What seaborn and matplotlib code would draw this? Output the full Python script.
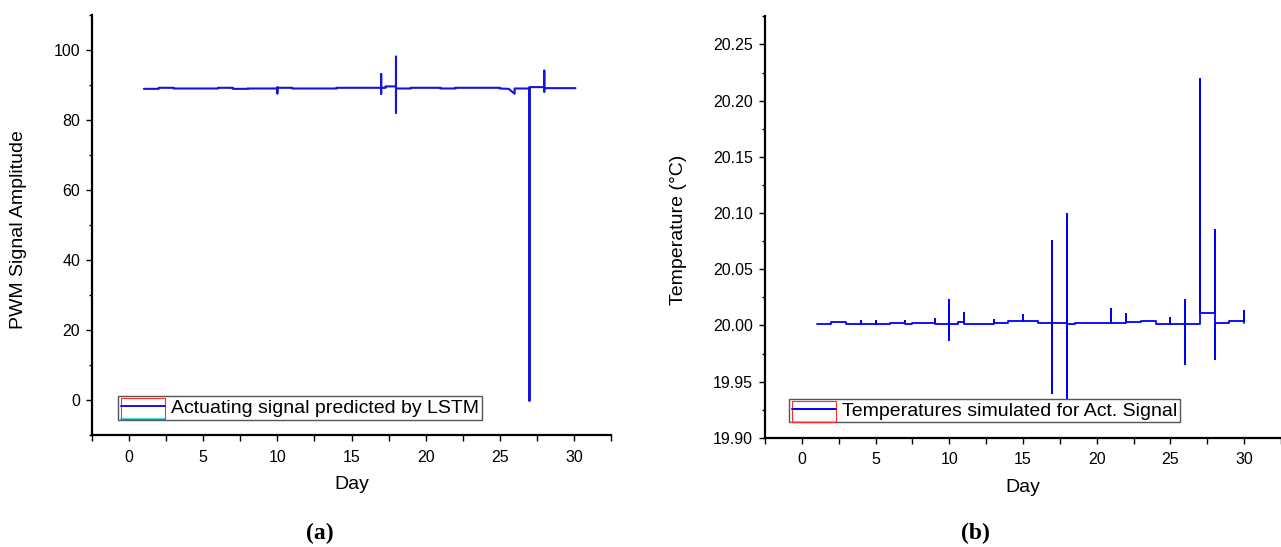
import matplotlib
matplotlib.use("Agg")
import matplotlib.pyplot as plt
import seaborn as sns
from matplotlib.patches import Rectangle
from matplotlib.lines import Line2D
from matplotlib.legend_handler import HandlerBase
from matplotlib.ticker import MultipleLocator, FormatStrFormatter

# ---------------- data ----------------
day_a = [1.0, 2.0, 2.0, 3.0, 3.0, 6.0, 6.0, 7.0, 7.0, 8.0, 8.0, 10.0, 10.0, 10.0, 10.0,
         11.0, 11.0, 14.0, 14.0, 17.0, 17.0, 17.0, 17.0, 17.3, 17.3, 18.0, 18.0, 18.0, 18.0,
         19.0, 19.0, 21.0, 21.0, 22.0, 22.0, 25.0, 25.0, 25.6, 26.0, 26.0, 27.0, 27.0, 27.0,
         28.0, 28.0, 28.0, 28.0, 30.1]
pwm = [88.9, 88.9, 89.2, 89.2, 89.0, 89.0, 89.2, 89.2, 88.9, 88.9, 89.0, 89.0, 87.6, 89.3, 89.2,
       89.2, 89.0, 89.0, 89.2, 89.2, 93.1, 87.5, 89.2, 89.2, 89.6, 89.6, 98.1, 82.1, 89.0,
       89.0, 89.2, 89.2, 89.0, 89.0, 89.2, 89.2, 89.0, 88.9, 87.5, 89.0, 89.0, -0.2, 89.4,
       89.4, 94.1, 88.1, 89.1, 89.1]

day_b = [1.0, 2.0, 2.0, 3.0, 3.0, 4.0, 4.0, 4.0, 5.0, 5.0, 5.0, 6.0, 6.0, 7.0, 7.0, 7.0,
         7.5, 7.5, 9.0, 9.0, 9.0, 10.0, 10.0, 10.0, 10.0, 10.6, 10.6, 11.0, 11.0, 11.0,
         13.0, 13.0, 13.0, 14.0, 14.0, 15.0, 15.0, 15.0, 16.0, 16.0, 17.0, 17.0, 17.0, 17.0,
         18.0, 18.0, 18.0, 18.0, 18.5, 18.5, 21.0, 21.0, 21.0, 22.0, 22.0, 22.0, 23.0, 23.0,
         24.0, 24.0, 25.0, 25.0, 25.0, 26.0, 26.0, 26.0, 26.0, 27.0, 27.0, 27.0,
         28.0, 28.0, 28.0, 28.0, 29.0, 29.0, 30.0, 30.0, 30.0]
temp = [20.001, 20.001, 20.003, 20.003, 20.001, 20.001, 20.004, 20.001, 20.001, 20.004, 20.001,
        20.001, 20.002, 20.002, 20.004, 20.001, 20.001, 20.002, 20.002, 20.006, 20.001,
        20.001, 20.023, 19.987, 20.001, 20.001, 20.003, 20.003, 20.011, 20.001,
        20.001, 20.005, 20.002, 20.002, 20.004, 20.004, 20.009, 20.004, 20.004, 20.002,
        20.002, 20.075, 19.940, 20.002, 20.002, 20.099, 19.930, 20.001, 20.001, 20.002,
        20.002, 20.015, 20.002, 20.002, 20.010, 20.003, 20.003, 20.004, 20.004, 20.001,
        20.001, 20.007, 20.001, 20.001, 20.023, 19.966, 20.001, 20.001, 20.219, 20.011,
        20.011, 20.085, 19.970, 20.002, 20.002, 20.004, 20.004, 20.013, 20.002]

label_a = "Actuating signal predicted by LSTM"
label_b = "Temperatures simulated for Act. Signal"

# ---------------- style ----------------
sns.set_style("ticks")
plt.rcParams["font.family"] = ["Liberation Sans", "DejaVu Sans"]
plt.rcParams["text.color"] = "black"
plt.rcParams["axes.labelcolor"] = "black"
plt.rcParams["xtick.color"] = "black"
plt.rcParams["ytick.color"] = "black"
plt.rcParams["axes.edgecolor"] = "black"

BLUE_A = "#1414dc"
BLUE_B = "#0000ff"


class OriginHandle(HandlerBase):
    def __init__(self, color):
        super().__init__()
        self.color = color

    def create_artists(self, legend, orig_handle, xdescent, ydescent, width, height,
                       fontsize, trans):
        x0, y0 = -xdescent, -ydescent
        bot = y0 - 0.45 * height
        top = y0 + 1.08 * height
        rect = Rectangle((x0, bot), width, top - bot, fill=False, ec="#ff2a2a", lw=0.8,
                         transform=trans)
        cyan = Line2D([x0, x0 + width], [bot, bot], color="#40e6e6", lw=1.6, transform=trans)
        line = Line2D([x0, x0 + width], [y0 + height / 2] * 2, color=self.color, lw=1.4,
                      transform=trans)
        return [cyan, rect, line]


fig = plt.figure(figsize=(12.81, 5.47), dpi=100)
axA = fig.add_axes([92 / 1281, 1 - 435 / 547, 519 / 1281, 420 / 547])
axB = fig.add_axes([765 / 1281, 1 - 437.8 / 547, 516 / 1281, 421.4 / 547])

sns.lineplot(x=day_a, y=pwm, sort=False, estimator=None, ax=axA, color=BLUE_A, lw=1.5)
sns.lineplot(x=day_b, y=temp, sort=False, estimator=None, ax=axB, color=BLUE_B, lw=1.3)

axA.set_xlim(-2.5, 32.5)
axA.set_ylim(-10, 110)
axA.yaxis.set_major_locator(MultipleLocator(20))
axA.yaxis.set_minor_locator(MultipleLocator(10))

axB.set_xlim(-2.5, 32.5)
axB.set_ylim(19.90, 20.275)
axB.yaxis.set_major_locator(MultipleLocator(0.05))
axB.yaxis.set_minor_locator(MultipleLocator(0.025))
axB.yaxis.set_major_formatter(FormatStrFormatter("%.2f"))

for ax in (axA, axB):
    ax.xaxis.set_major_locator(MultipleLocator(5))
    ax.xaxis.set_minor_locator(MultipleLocator(2.5))
    sns.despine(ax=ax)
    for s in ("left", "bottom"):
        ax.spines[s].set_linewidth(1.6)
    ax.tick_params(axis="x", which="major", direction="out", length=4.5, width=1.0,
                   pad=6.0, labelsize=11.5)
    ax.tick_params(axis="x", which="minor", direction="out", length=4.0, width=1.0)
    ax.tick_params(axis="y", which="major", direction="out", length=4.5, width=1.0,
                   pad=4.0, labelsize=11.5)
    ax.tick_params(axis="y", which="minor", direction="out", length=2.5, width=1.0)

axA.set_xlabel("Day", fontsize=14)
axA.set_ylabel("PWM Signal Amplitude", fontsize=14)
axA.xaxis.set_label_coords(0.5004, -0.1167)
axA.xaxis.label.set_va("center")
axA.yaxis.set_label_coords(-0.1416, 0.490)
axA.yaxis.label.set_va("center")

axB.set_xlabel("Day", fontsize=14)
axB.set_ylabel("Temperature (°C)", fontsize=14)
axB.xaxis.set_label_coords(0.5, -0.119)
axB.xaxis.label.set_va("center")
axB.yaxis.set_label_coords(-0.1676, 0.493)
axB.yaxis.label.set_va("center")

for ax, lab, col, anchor in ((axA, label_a, BLUE_A, (0.0495, 0.0367)),
                             (axB, label_b, BLUE_B, (0.046, 0.0365))):
    h = Line2D([], [], color=col)
    leg = ax.legend(handles=[h], labels=[lab], handler_map={h: OriginHandle(col)},
                    loc="lower left", bbox_to_anchor=anchor, borderaxespad=0,
                    fontsize=14, handlelength=2.3, handletextpad=0.3, borderpad=0.15,
                    frameon=True, fancybox=False, framealpha=1, edgecolor="#555555")
    leg.get_frame().set_linewidth(1.0)

serif = ["Liberation Serif", "DejaVu Serif"]
fig.text(320 / 1281, 1 - 533 / 547, "(a)", ha="center", va="center", fontsize=17,
         fontweight="bold", family=serif)
fig.text(975 / 1281, 1 - 533 / 547, "(b)", ha="center", va="center", fontsize=17,
         fontweight="bold", family=serif)

fig.savefig("out.png", dpi=100)
